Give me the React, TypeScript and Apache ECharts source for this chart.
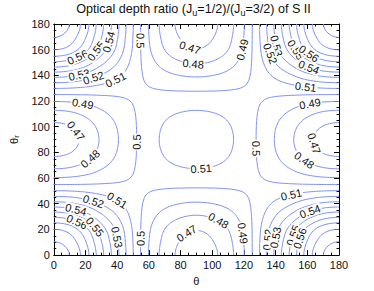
import React, { useEffect, useRef } from "react";
import * as echarts from "echarts";

// ---- data ----
// sample angles (deg) for the two mid-line profiles (mirrored about 90)
const sampleAngles = [0, 10, 20, 30, 40, 50, 60, 70, 80, 90];
// ratio along theta at theta_r = 90
const ratioAlongTheta = [0.4647, 0.4667, 0.4728, 0.4812, 0.4893, 0.498, 0.5062, 0.5116, 0.5148, 0.516];
// ratio along theta_r at theta = 90
const ratioAlongThetaR = [0.4647, 0.4665, 0.4705, 0.479, 0.4888, 0.498, 0.5058, 0.5113, 0.5148, 0.516];
// value on the straight saddle lines
const saddleRatio = 0.5015;
const contourLevels = [0.47, 0.48, 0.49, 0.5, 0.51, 0.52, 0.53, 0.54, 0.55, 0.56, 0.57, 0.58, 0.59];
const axisTicks = [0, 20, 40, 60, 80, 100, 120, 140, 160, 180];
// [level, theta, theta_r] of inline labels
const labelSpots: [number, number, number][] = [
  [0.56, 13.0, 160.2], [0.55, 21.3, 164.0], [0.54, 31.7, 166.6], [0.53, 15.1, 143.4], [0.52, 24.4, 140.8], [0.51, 38.9, 137.5],
  [0.5, 56.0, 166.6], [0.47, 86.5, 164], [0.48, 87.5, 148.6], [0.49, 118.5, 160.0],
  [0.53, 139.8, 162.7], [0.52, 134.7, 156.3], [0.55, 151.2, 158.8], [0.56, 162.6, 158.8], [0.54, 160.6, 146], [0.51, 158.5, 130.6], [0.49, 161.6, 116.4],
  [0.47, 166.2, 88.1], [0.48, 156.4, 71.3], [0.5, 125.6, 83],
  [0.51, 93.0, 65.0], [0.5, 54.0, 88.1],
  [0.49, 18.2, 115.9], [0.47, 12, 94.5], [0.48, 23.4, 75.2],
  [0.51, 38.9, 40.4], [0.52, 24.4, 39.1], [0.54, 13, 28.8], [0.56, 12, 18.5], [0.55, 21.3, 17.2], [0.53, 37.9, 13.4], [0.5, 55.4, 13.4],
  [0.47, 85.5, 13.4], [0.48, 102.0, 22.0], [0.49, 117.3, 16.5],
  [0.51, 150.4, 46.2], [0.54, 163.0, 28.8], [0.52, 135.7, 12], [0.53, 140.9, 13.4], [0.55, 153.3, 14.7], [0.56, 157.5, 12],
];

const FONT = "'Liberation Sans', Arial, Helvetica, sans-serif";
const LINE_COLOR = "#7a8ef2";
const W = 374, H = 291;
const PL = 48, PT = 24, PW = 291, PH = 233;

function profile(samples: number[], angle: number): number {
  let a = angle % 180;
  if (a < 0) a += 180;
  if (a > 90) a = 180 - a;
  const step = sampleAngles[1] - sampleAngles[0];
  const last = samples.length - 1;
  let k = Math.floor(a / step);
  if (k >= last) k = last - 1;
  const t = (a - k * step) / step;
  const get = (i: number) => {
    if (i < 0) i = -i;
    if (i > last) i = 2 * last - i;
    return samples[i];
  };
  const p0 = get(k - 1), p1 = get(k), p2 = get(k + 1), p3 = get(k + 2);
  const t2 = t * t, t3 = t2 * t;
  return 0.5 * (2 * p1 + (-p0 + p2) * t + (2 * p0 - 5 * p1 + 4 * p2 - p3) * t2 + (-p0 + 3 * p1 - 3 * p2 + p3) * t3);
}

function buildField(n: number, step: number): number[][] {
  const center = ratioAlongTheta[ratioAlongTheta.length - 1];
  const F: number[][] = [];
  for (let j = 0; j <= n; j++) {
    const row: number[] = [];
    const tr = profile(ratioAlongThetaR, j * step) - saddleRatio;
    for (let i = 0; i <= n; i++) {
      const tl = profile(ratioAlongTheta, i * step) - saddleRatio;
      row.push(saddleRatio + (tl * tr) / (center - saddleRatio));
    }
    F.push(row);
  }
  return F;
}

type Seg = { a: string; pa: number[]; b: string; pb: number[] };

function traceLevel(F: number[][], n: number, step: number, L: number): number[][][] {
  const segs: Seg[] = [];
  for (let j = 0; j < n; j++) {
    for (let i = 0; i < n; i++) {
      const v0 = F[j][i], v1 = F[j][i + 1], v2 = F[j + 1][i + 1], v3 = F[j + 1][i];
      const idx = (v0 > L ? 1 : 0) | (v1 > L ? 2 : 0) | (v2 > L ? 4 : 0) | (v3 > L ? 8 : 0);
      if (idx === 0 || idx === 15) continue;
      const P: Record<string, [string, number[]]> = {
        B: [`h${i},${j}`, [(i + (L - v0) / (v1 - v0)) * step, j * step]],
        R: [`v${i + 1},${j}`, [(i + 1) * step, (j + (L - v1) / (v2 - v1)) * step]],
        T: [`h${i},${j + 1}`, [(i + (L - v3) / (v2 - v3)) * step, (j + 1) * step]],
        Lf: [`v${i},${j}`, [i * step, (j + (L - v0) / (v3 - v0)) * step]],
      };
      const c = (v0 + v1 + v2 + v3) / 4 > L;
      let pairs: string[][] = [];
      switch (idx) {
        case 1: case 14: pairs = [["Lf", "B"]]; break;
        case 2: case 13: pairs = [["B", "R"]]; break;
        case 3: case 12: pairs = [["Lf", "R"]]; break;
        case 4: case 11: pairs = [["R", "T"]]; break;
        case 6: case 9: pairs = [["B", "T"]]; break;
        case 7: case 8: pairs = [["Lf", "T"]]; break;
        case 5: pairs = c ? [["Lf", "T"], ["B", "R"]] : [["Lf", "B"], ["R", "T"]]; break;
        case 10: pairs = c ? [["Lf", "B"], ["R", "T"]] : [["B", "R"], ["Lf", "T"]]; break;
      }
      for (const [e1, e2] of pairs) {
        segs.push({ a: P[e1][0], pa: P[e1][1], b: P[e2][0], pb: P[e2][1] });
      }
    }
  }
  const byKey = new Map<string, number[]>();
  segs.forEach((s, k) => {
    if (!byKey.has(s.a)) byKey.set(s.a, []);
    if (!byKey.has(s.b)) byKey.set(s.b, []);
    byKey.get(s.a)!.push(k);
    byKey.get(s.b)!.push(k);
  });
  const used = new Uint8Array(segs.length);
  const out: number[][][] = [];
  for (let s0 = 0; s0 < segs.length; s0++) {
    if (used[s0]) continue;
    used[s0] = 1;
    const pts: number[][] = [segs[s0].pa, segs[s0].pb];
    let key = segs[s0].b;
    for (;;) {
      const cand = (byKey.get(key) || []).find((k) => !used[k]);
      if (cand === undefined) break;
      used[cand] = 1;
      const s = segs[cand];
      if (s.a === key) { pts.push(s.pb); key = s.b; } else { pts.push(s.pa); key = s.a; }
    }
    key = segs[s0].a;
    for (;;) {
      const cand = (byKey.get(key) || []).find((k) => !used[k]);
      if (cand === undefined) break;
      used[cand] = 1;
      const s = segs[cand];
      if (s.a === key) { pts.unshift(s.pb); key = s.b; } else { pts.unshift(s.pa); key = s.a; }
    }
    if (pts.length > 2) out.push(pts);
  }
  return out;
}

function levelText(v: number): string {
  return String(Number(v.toFixed(2)));
}

export default function App() {
  const ref = useRef<HTMLDivElement>(null);
  useEffect(() => {
    if (!ref.current) return;
    const chart = echarts.init(ref.current, undefined, { renderer: "svg" });
    const step = 1;
    const n = 180;
    const F = buildField(n, step);
    const byLevel = new Map<number, number[][][]>();
    const series: any[] = [];
    for (const L of contourLevels) {
      const lines = traceLevel(F, n, step, L);
      byLevel.set(L, lines);
      for (const pts of lines) {
        series.push({
          type: "line",
          data: pts,
          showSymbol: false,
          symbol: "none",
          silent: true,
          lineStyle: { color: LINE_COLOR, width: 1 },
          z: 2,
        });
      }
    }

    const axisCommon = {
      type: "value",
      min: 0,
      max: 180,
      interval: 20,
      axisLine: { show: true, onZero: false, lineStyle: { color: "#000", width: 1 } },
      axisTick: { show: true, inside: true, length: 5, lineStyle: { color: "#000" } },
      minorTick: { show: true, splitNumber: 4, length: 2.5, lineStyle: { color: "#000" } },
      splitLine: { show: false },
    };
    const titleGraphic = {
      type: "text",
      id: "title",
      x: PL + PW / 2,
      y: 9,
      silent: true,
      style: {
        text: "Optical depth ratio (J{s|u}=1/2)/(J{s|u}=3/2) of S II",
        fill: "#111",
        fontSize: 12.6,
        fontFamily: FONT,
        align: "center",
        verticalAlign: "middle",
        rich: {
          s: { fontSize: 9, fontFamily: FONT, fill: "#111", padding: [7, 0, 0, 0], verticalAlign: "bottom" },
        },
      },
    };
    const option: any = {
      animation: false,
      grid: { left: PL, top: PT, width: PW, height: PH, containLabel: false },
      xAxis: [
        {
          ...axisCommon,
          position: "bottom",
          axisLabel: { show: true, color: "#111", fontSize: 11, fontFamily: FONT, margin: 4, customValues: axisTicks },
          name: "θ",
          nameLocation: "middle",
          nameGap: 19,
          nameTextStyle: { color: "#111", fontSize: 11, fontFamily: FONT },
        },
        { ...axisCommon, position: "top", axisLabel: { show: false } },
      ],
      yAxis: [
        {
          ...axisCommon,
          position: "left",
          axisLabel: { show: true, color: "#111", fontSize: 11, fontFamily: FONT, margin: 4 },
          name: "θ{s|r}",
          nameLocation: "middle",
          nameRotate: 90,
          nameGap: 31,
          nameTextStyle: {
            color: "#111",
            fontSize: 11,
            fontFamily: FONT,
            rich: { s: { fontSize: 8, fontFamily: FONT, color: "#111", padding: [6, 0, 0, 0], verticalAlign: "bottom" } },
          },
        },
        { ...axisCommon, position: "right", axisLabel: { show: false } },
      ],
      graphic: [titleGraphic],
      series,
    };
    chart.setOption(option);

    // inline contour labels, snapped onto their contour and turned along it
    const labelGraphics: any[] = [];
    labelSpots.forEach(([L, x, y], idx) => {
      const lines = byLevel.get(L) || [];
      const target = chart.convertToPixel({ gridIndex: 0 }, [x, y]) as number[];
      let best: { d: number; line: number[][]; k: number; p: number[] } | null = null;
      for (const line of lines) {
        for (let k = 0; k < line.length; k++) {
          const p = chart.convertToPixel({ gridIndex: 0 }, line[k]) as number[];
          const dx = p[0] - target[0], dy = p[1] - target[1];
          const d = dx * dx + dy * dy;
          if (!best || d < best.d) best = { d, line, k, p };
        }
      }
      if (!best) return;
      const { line, k, p } = best;
      const a = chart.convertToPixel({ gridIndex: 0 }, line[Math.max(0, k - 4)]) as number[];
      const b = chart.convertToPixel({ gridIndex: 0 }, line[Math.min(line.length - 1, k + 4)]) as number[];
      let ang = Math.atan2(-(b[1] - a[1]), b[0] - a[0]);
      if (ang > Math.PI / 2) ang -= Math.PI;
      if (ang < -Math.PI / 2) ang += Math.PI;
      labelGraphics.push({
        type: "text",
        id: "lab" + idx,
        x: p[0],
        y: p[1],
        rotation: ang,
        z: 10,
        silent: true,
        style: {
          text: levelText(L),
          fill: "#111",
          fontSize: 11,
          fontFamily: FONT,
          align: "center",
          verticalAlign: "middle",
          backgroundColor: "#ffffff",
          padding: [0, 1, 0, 1],
        },
      });
    });
    chart.setOption({ graphic: [titleGraphic, ...labelGraphics] });
    return () => chart.dispose();
  }, []);
  return <div ref={ref} style={{ position: "absolute", left: 0, top: 0, width: W, height: H, background: "#fff" }} />;
}
